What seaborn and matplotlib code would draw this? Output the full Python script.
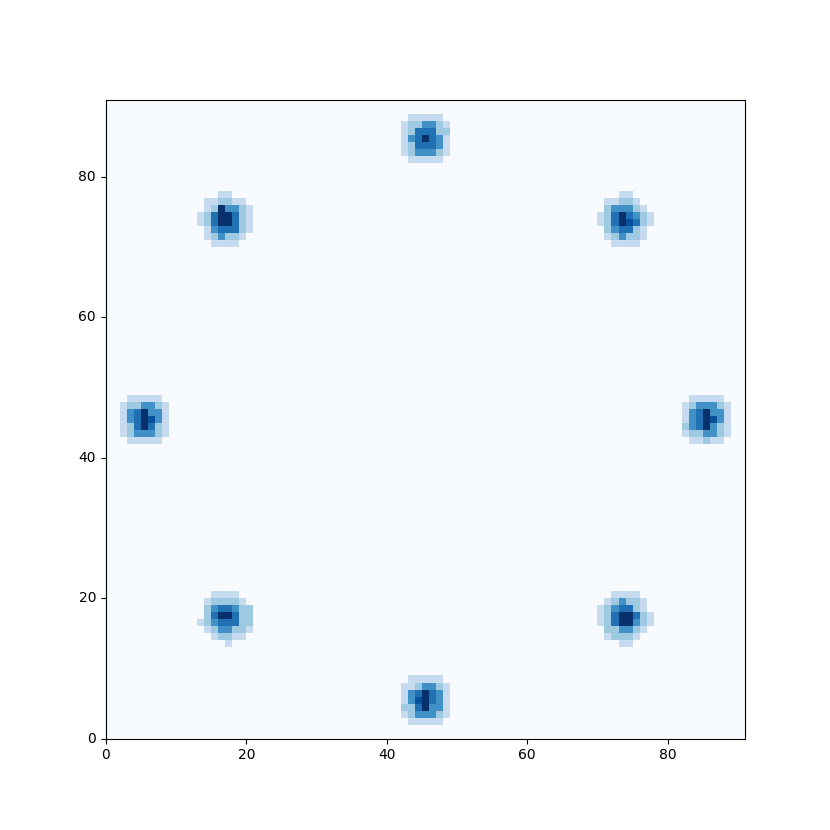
import numpy as np
import matplotlib
matplotlib.use("Agg")
import matplotlib.pyplot as plt
import seaborn as sns

N_BINS = 91
TICKS = [0, 20, 40, 60, 80]

# each blob: (left column, top row) of its patch, then counts from top row down
top_anchor = (42, 88)
top_counts = [
    [0, 2, 2, 2, 2, 2, 0],
    [2, 3, 3, 5, 5, 3, 2],
    [2, 3, 6, 6, 6, 3, 3],
    [2, 5, 6, 8, 6, 5, 2],
    [2, 3, 6, 6, 6, 5, 2],
    [2, 3, 5, 5, 5, 3, 2],
    [0, 2, 2, 2, 2, 2, 0],
]

upper_right_anchor = (70, 77)
upper_right_counts = [
    [0, 0, 0, 2, 2, 0, 0, 0],
    [0, 2, 2, 3, 3, 2, 0, 0],
    [0, 3, 5, 5, 5, 3, 2, 0],
    [2, 3, 6, 8, 6, 5, 3, 2],
    [2, 3, 6, 8, 7, 6, 3, 2],
    [0, 3, 5, 6, 6, 3, 2, 0],
    [0, 2, 3, 5, 3, 3, 2, 0],
    [0, 0, 2, 2, 2, 2, 0, 0],
]

right_anchor = (82, 48)
right_counts = [
    [0, 2, 2, 2, 2, 2, 0],
    [2, 3, 5, 5, 5, 3, 2],
    [2, 5, 6, 8, 5, 5, 2],
    [2, 5, 6, 8, 7, 5, 2],
    [3, 5, 6, 8, 5, 3, 2],
    [2, 3, 3, 5, 5, 3, 2],
    [0, 2, 2, 3, 2, 2, 0],
]

lower_right_anchor = (70, 20)
lower_right_counts = [
    [0, 0, 2, 2, 2, 2, 0, 0],
    [0, 2, 3, 5, 3, 3, 2, 0],
    [2, 3, 5, 6, 6, 3, 2, 0],
    [2, 3, 6, 8, 8, 6, 3, 2],
    [2, 3, 6, 8, 8, 5, 3, 2],
    [0, 3, 3, 5, 5, 3, 2, 0],
    [0, 2, 3, 3, 3, 2, 0, 0],
    [0, 0, 0, 2, 2, 0, 0, 0],
]

bottom_anchor = (42, 8)
bottom_counts = [
    [0, 2, 2, 2, 2, 2, 0],
    [2, 2, 3, 5, 5, 3, 2],
    [2, 5, 6, 8, 6, 5, 2],
    [2, 5, 7, 8, 6, 5, 2],
    [3, 3, 6, 8, 5, 5, 2],
    [2, 3, 5, 5, 5, 3, 2],
    [0, 2, 2, 2, 2, 2, 0],
]

lower_left_anchor = (13, 20)
lower_left_counts = [
    [0, 0, 2, 2, 2, 2, 0, 0],
    [0, 2, 3, 3, 3, 3, 2, 0],
    [0, 3, 5, 6, 6, 5, 3, 3],
    [0, 3, 6, 8, 8, 6, 3, 3],
    [2, 3, 5, 6, 6, 6, 3, 3],
    [0, 2, 3, 5, 5, 3, 3, 2],
    [0, 0, 2, 3, 3, 2, 2, 0],
    [0, 0, 0, 0, 2, 0, 0, 0],
]

left_anchor = (2, 48)
left_counts = [
    [0, 2, 2, 2, 2, 2, 0],
    [2, 3, 3, 5, 5, 3, 2],
    [2, 5, 6, 8, 5, 5, 2],
    [2, 5, 6, 8, 7, 5, 2],
    [2, 3, 6, 8, 6, 3, 2],
    [2, 3, 5, 5, 5, 3, 2],
    [0, 2, 2, 2, 2, 2, 0],
]

upper_left_anchor = (13, 77)
upper_left_counts = [
    [0, 0, 0, 2, 2, 0, 0, 0],
    [0, 2, 2, 3, 3, 2, 2, 0],
    [0, 2, 3, 8, 5, 5, 3, 2],
    [2, 3, 6, 8, 8, 6, 3, 2],
    [2, 3, 6, 8, 8, 6, 3, 2],
    [0, 2, 5, 6, 6, 6, 3, 2],
    [0, 2, 3, 5, 3, 3, 2, 0],
    [0, 0, 2, 2, 2, 2, 0, 0],
]

blobs = [
    (top_anchor, top_counts),
    (upper_right_anchor, upper_right_counts),
    (right_anchor, right_counts),
    (lower_right_anchor, lower_right_counts),
    (bottom_anchor, bottom_counts),
    (lower_left_anchor, lower_left_counts),
    (left_anchor, left_counts),
    (upper_left_anchor, upper_left_counts),
]

hist = np.zeros((N_BINS, N_BINS))
for (col0, row_top), counts in blobs:
    counts = np.array(counts)
    for k, row in enumerate(counts):
        hist[row_top - k, col0:col0 + len(row)] = row

fig, ax = plt.subplots(figsize=(8.3, 8.3), dpi=100)
sns.heatmap(hist, cmap="Blues", vmin=0, vmax=8, cbar=False, square=True, ax=ax)
ax.set_xlim(0, N_BINS)
ax.set_ylim(0, N_BINS)
ax.set_xticks(TICKS)
ax.set_xticklabels([str(t) for t in TICKS], rotation=0)
ax.set_yticks(TICKS)
ax.set_yticklabels([str(t) for t in TICKS], rotation=0)
ax.tick_params(length=3.5, width=0.8, labelsize=10)
for s in ax.spines.values():
    s.set_visible(True)
    s.set_linewidth(0.8)
    s.set_color("black")
ax.set_position([0.125, 0.11, 0.775, 0.77])

fig.savefig("out.png", dpi=100)
